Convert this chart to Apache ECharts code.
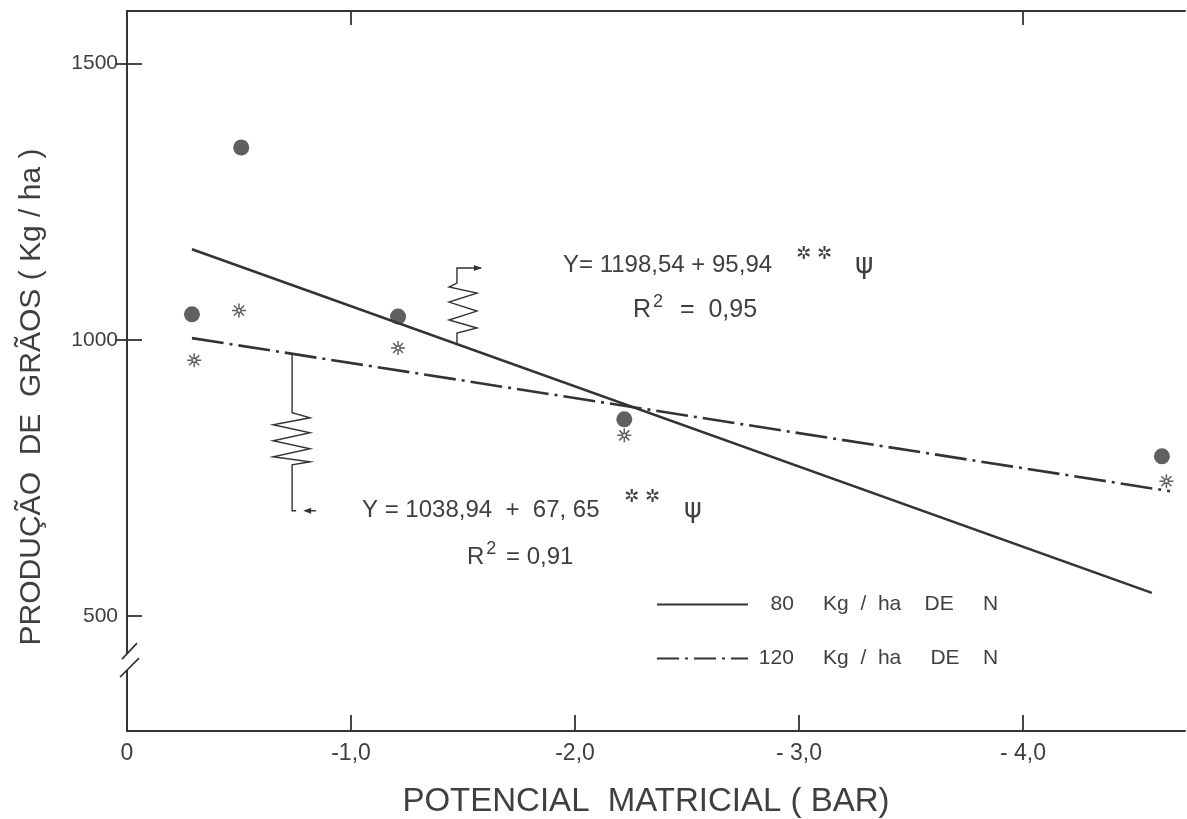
<!DOCTYPE html>
<html>
<head>
<meta charset="utf-8">
<script src="https://cdn.jsdelivr.net/npm/echarts@6/dist/echarts.min.js"></script>
<style>
  html, body { margin: 0; padding: 0; background: #ffffff; }
  #chart { width: 1187px; height: 819px; }
</style>
</head>
<body>
<div id="chart"></div>
<script>
// Matric potential (bar) and grain yield (kg/ha), 80 kg/ha N
const potential80 = [-0.29, -0.51, -1.21, -2.22, -4.62];
const yield80 = [1046, 1348, 1042, 856, 789];
// Matric potential (bar) and grain yield (kg/ha), 120 kg/ha N
const potential120 = [-0.30, -0.50, -1.21, -2.22, -4.64];
const yield120 = [963, 1053, 985, 827, 744];
// Fitted regression lines (end points)
const fit80X = [-0.29, -4.575];
const fit80Y = [1164, 542];
const fit120X = [-0.29, -4.656];
const fit120Y = [1003, 726];
// Axis ticks and labels
const xTicks = [0, -1, -2, -3, -4];
const xTickLabels = ['0', '-1,0', '-2,0', '- 3,0', '- 4,0'];
const xTopTicks = [-1, -4];
const yTicks = [500, 1000, 1500];
const yTickLabels = ['500', '1000', '1500'];
const yRightTicks = [1000, 1500];
const seriesNames = ['80 Kg / ha DE N', '120 Kg / ha DE N'];
const legendTexts = ['   80     Kg  /  ha    DE     N', ' 120     Kg  /  ha     DE    N'];
const eqText80 = 'Y= 1198,54 + 95,94';
const eqText120 = 'Y = 1038,94  +  67, 65';
const r2Text80 = '0,95';
const r2Text120 = '0,91';

const INK = '#333333';
const TEXT = '#3f3f3f';
const FONT = '"Liberation Sans", Arial, sans-serif';
const SYM_FONT = '"DejaVu Sans", sans-serif';

// Open-centre asterisk used for the 120 kg/ha points
const starPath = 'path://M0,-6L0,-1.8M0,1.8L0,6M-6,0L-1.8,0M1.8,0L6,0' +
  'M-4.3,-4.3L-1.3,-1.3M1.3,1.3L4.3,4.3M-4.3,4.3L-1.3,1.3M1.3,-1.3L4.3,-4.3' +
  'M1.8,0A1.8,1.8,0,1,1,-1.8,0A1.8,1.8,0,1,1,1.8,0';

const zip = (xs, ys) => xs.map((x, i) => [x, ys[i]]);

const chart = echarts.init(document.getElementById('chart'), null, { renderer: 'canvas' });

const axisLine = { show: true, lineStyle: { color: INK, width: 1.8 } };

const option = {
  backgroundColor: '#ffffff',
  animation: false,
  grid: { left: 127, right: 2, top: 11, bottom: 88, containLabel: false, outerBoundsMode: 'none' },
  xAxis: [
    {
      type: 'value', min: -4.723, max: 0, inverse: true, position: 'bottom',
      axisLine: axisLine,
      splitLine: { show: false },
      axisTick: { show: true, inside: true, length: 16, customValues: xTicks,
        lineStyle: { color: INK, width: 1.8 } },
      axisLabel: { show: true, customValues: xTicks, margin: 11, fontFamily: FONT, fontSize: 23, color: TEXT,
        formatter: v => xTickLabels[xTicks.indexOf(Math.round(v))] },
      name: 'POTENCIAL  MATRICIAL ( BAR)', nameLocation: 'middle', nameGap: 54,
      nameTextStyle: { fontFamily: FONT, fontSize: 33, color: TEXT, padding: [0, 20, 0, 0] }
    },
    {
      type: 'value', min: -4.723, max: 0, inverse: true, position: 'top',
      axisLine: axisLine,
      splitLine: { show: false },
      axisTick: { show: true, inside: true, length: 14, customValues: xTopTicks,
        lineStyle: { color: INK, width: 1.8 } },
      axisLabel: { show: false }
    }
  ],
  yAxis: [
    {
      type: 'value', min: 292, max: 1595, position: 'left',
      axisLine: axisLine,
      splitLine: { show: false },
      axisTick: { show: true, inside: true, length: 15, customValues: yTicks,
        lineStyle: { color: INK, width: 1.8 } },
      axisLabel: { show: true, customValues: yTicks, margin: 9, fontFamily: FONT, fontSize: 21, color: TEXT,
        formatter: v => yTickLabels[yTicks.indexOf(v)] },
      name: 'PRODUÇÃO  DE  GRÃOS ( Kg / ha )', nameLocation: 'middle', nameGap: 80, nameRotate: 90,
      nameTextStyle: { fontFamily: FONT, fontSize: 30, color: TEXT, padding: [0, 52, 0, 0] }
    },
    {
      type: 'value', min: 292, max: 1595, position: 'right',
      axisLine: axisLine,
      splitLine: { show: false },
      axisTick: { show: true, inside: true, length: 12, customValues: yRightTicks,
        lineStyle: { color: INK, width: 1.8 } },
      axisLabel: { show: false }
    }
  ],
  legend: {
    data: [
      { name: seriesNames[0] },
      { name: seriesNames[1], lineStyle: { type: [22, 6, 3, 6] } }
    ],
    orient: 'vertical', left: 651, top: 589,
    itemWidth: 91, itemHeight: 14, itemGap: 33,
    itemStyle: { opacity: 0 },
    textStyle: { fontFamily: FONT, fontSize: 21, color: TEXT },
    formatter: name => legendTexts[seriesNames.indexOf(name)]
  },
  series: [
    {
      name: seriesNames[0], type: 'line', data: zip(fit80X, fit80Y),
      symbol: 'none', color: INK,
      lineStyle: { color: INK, width: 2.6, type: 'solid' }, z: 3
    },
    {
      name: seriesNames[1], type: 'line', data: zip(fit120X, fit120Y),
      symbol: 'none', color: INK,
      lineStyle: { color: INK, width: 2.6, type: [32, 6, 3, 6] }, z: 3
    },
    {
      name: 'obs80', type: 'scatter', data: zip(potential80, yield80),
      symbol: 'circle', symbolSize: 16,
      itemStyle: { color: '#383838' }, z: 4
    },
    {
      name: 'obs120', type: 'scatter', data: zip(potential120, yield120),
      symbol: starPath, symbolSize: 14, symbolKeepAspect: true,
      itemStyle: { color: 'rgba(0,0,0,0)', borderColor: '#383838', borderWidth: 1.5 }, z: 4
    }
  ]
};

chart.setOption(option);

// ---- annotations: leaders, equations, axis break ----
const toPx = (x, y) => chart.convertToPixel({ xAxisIndex: 0, yAxisIndex: 0 }, [x, y]);
const onLine = (xs, ys, x) => ys[0] + (x - xs[0]) / (xs[1] - xs[0]) * (ys[1] - ys[0]);

const stroke = { stroke: INK, lineWidth: 1.4, fill: null };
const graphics = [];

function leader(ax, ay, pts) {
  graphics.push({ type: 'polyline', silent: true, z: 10,
    shape: { points: pts.map(p => [ax + p[0], ay + p[1]]) }, style: stroke });
}
function arrowHead(x, y, dir) {
  graphics.push({ type: 'polygon', silent: true, z: 10,
    shape: { points: [[x, y], [x - 8 * dir, y - 3], [x - 8 * dir, y + 3]] },
    style: { fill: INK } });
}

// leader from the 80 kg/ha line up to its equation
const a80x = -1.473;
const [p80x, p80y] = toPx(a80x, onLine(fit80X, fit80Y, a80x));
leader(p80x, p80y, [[0, 0], [0, -11], [20, -16], [-8, -24], [20, -33], [-8, -42], [20, -51], [-8, -57], [0, -61], [0, -76], [24, -76]]);
arrowHead(p80x + 25, p80y - 76, 1);

// leader from the 120 kg/ha line down to its equation
const a120x = -0.737;
const [p120x, p120y] = toPx(a120x, onLine(fit120X, fit120Y, a120x));
leader(p120x, p120y, [[0, 0], [0, 59], [18, 64], [-19, 71], [18, 79], [-19, 87], [18, 95], [-19, 103], [18, 108], [0, 111], [0, 157], [4, 157]]);
graphics.push({ type: 'line', silent: true, z: 10,
  shape: { x1: p120x + 14, y1: p120y + 157, x2: p120x + 24, y2: p120y + 157 }, style: stroke });
arrowHead(p120x + 11, p120y + 157, -1);

function txt(x, y, text, size, extra) {
  graphics.push({ type: 'text', silent: true, z: 10, x: x, y: y,
    style: Object.assign({ text: text, fontFamily: FONT, fontSize: size, fill: TEXT,
      align: 'left', verticalAlign: 'middle' }, extra || {}) });
}
const supStyle = size => ({ rich: { s: { fontSize: size, fontFamily: FONT, fill: TEXT, padding: [0, 3, 15, 2] } } });

// regression equations and coefficients of determination
txt(563, 265, eqText80, 24);
txt(796, 254, '✲ ✲', 18, { fontFamily: SYM_FONT });
txt(855, 266, 'ψ', 28, { fontFamily: SYM_FONT });
txt(633, 310, 'R{s|2}  =  ' + r2Text80, 25, supStyle(18));

txt(362, 510, eqText120, 24);
txt(624, 497, '✲ ✲', 18, { fontFamily: SYM_FONT });
txt(684, 510, 'ψ', 27, { fontFamily: SYM_FONT });
txt(467, 557, 'R{s|2} = ' + r2Text120, 24, supStyle(18));

// break marks on the vertical axis
const [bx, by] = toPx(0, 422);
graphics.push({ type: 'rect', silent: true, z: 20,
  shape: { x: bx - 3, y: by - 5, width: 6, height: 16 }, style: { fill: '#ffffff' } });
graphics.push({ type: 'line', silent: true, z: 21,
  shape: { x1: bx - 5, y1: by, x2: bx + 10, y2: by - 16 }, style: { stroke: INK, lineWidth: 1.6 } });
graphics.push({ type: 'line', silent: true, z: 21,
  shape: { x1: bx - 7, y1: by + 18, x2: bx + 12, y2: by - 1 }, style: { stroke: INK, lineWidth: 1.6 } });

chart.setOption({ graphic: graphics });
</script>
</body>
</html>
